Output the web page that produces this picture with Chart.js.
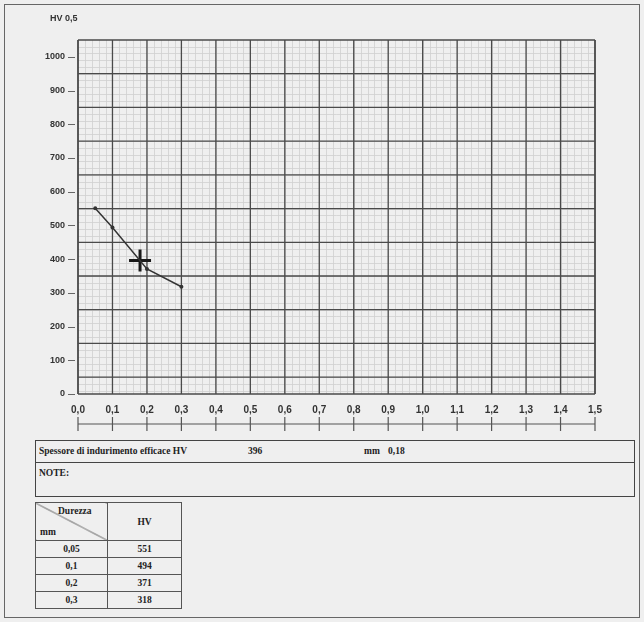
<!DOCTYPE html>
<html>
<head>
<meta charset="utf-8">
<script src="https://cdn.jsdelivr.net/npm/chart.js@4.4.1/dist/chart.umd.min.js"></script>
<style>
  html, body { margin: 0; padding: 0; background: #efefef; }
  body { width: 644px; height: 622px; position: relative; overflow: hidden; }
  #frame { position: absolute; left: 4px; top: 4px; width: 636px; height: 614px; border: 1px solid #666; box-sizing: border-box; }
  #chart { position: absolute; left: 0; top: 0; }
  #ytitle { position: absolute; left: 50px; top: 13px; font: bold 9px "Liberation Sans", Arial, sans-serif; color: #333; }
  .serif { font-family: "Liberation Serif", "Times New Roman", serif; font-weight: bold; font-size: 9.5px; color: #222; }
  #info { position: absolute; left: 35px; top: 440px; width: 600px; height: 57px; border: 1.5px solid #444; box-sizing: border-box; }
  #info .row1 { position: absolute; left: 0; top: 0; right: 0; height: 21px; border-bottom: 1.5px solid #444; }
  #info span { position: absolute; top: 5px; white-space: nowrap; }
  #note { position: absolute; left: 3px; top: 27px; }
  #tbl { position: absolute; left: 35px; top: 502px; border-collapse: collapse; }
  #tbl td { border: 1.5px solid #555; text-align: center; padding: 0; height: 16px; }
  #tbl td.c1 { width: 71px; }
  #tbl td.c2 { width: 73px; }
  #tbl td.head { height: 37px; position: relative;
    background: linear-gradient(to top right, transparent calc(50% - 0.7px), #444 50%, transparent calc(50% + 0.7px)); }
  #tbl .durezza { position: absolute; left: 22px; top: 3px; }
  #tbl .mm { position: absolute; left: 4px; bottom: 3px; }
</style>
</head>
<body>
<div id="frame"></div>
<canvas id="chart" width="644" height="440"></canvas>
<div id="ytitle">HV 0,5</div>
<div id="info" class="serif">
  <div class="row1">
    <span id="lblEff" style="left:3px">Spessore di indurimento efficace HV</span>
    <span id="valHV" style="left:212px"></span>
    <span style="left:328px">mm</span>
    <span id="valMm" style="left:352px"></span>
  </div>
  <div id="note">NOTE:</div>
</div>
<table id="tbl" class="serif">
  <tbody id="tbody">
    <tr><td class="c1 head"><span class="durezza">Durezza</span><span class="mm">mm</span></td><td class="c2">HV</td></tr>
  </tbody>
</table>

<script>
// Measured hardness profile: depth (mm) vs hardness HV 0,5
const depthsMm = [0.05, 0.1, 0.2, 0.3];
const hardnessHV = [551, 494, 371, 318];

// Effective case depth result
const effectiveHV = 396;
const effectiveDepthMm = 0.18;

// Axis tick labels
const xTickLabels = ['0,0','0,1','0,2','0,3','0,4','0,5','0,6','0,7','0,8','0,9','1,0','1,1','1,2','1,3','1,4','1,5'];
const yTickLabels = ['0','100','200','300','400','500','600','700','800','900','1000'];

const fmt = (v, d) => v.toFixed(d).replace('.', ',');
const fmtDepth = v => (Math.round(v * 100) % 10 === 0 ? fmt(v, 1) : fmt(v, 2));

// Text fields below the chart
document.getElementById('valHV').textContent = String(effectiveHV);
document.getElementById('valMm').textContent = fmt(effectiveDepthMm, 2);
const tbody = document.getElementById('tbody');
depthsMm.forEach((d, i) => {
  const tr = document.createElement('tr');
  tr.innerHTML = '<td class="c1">' + fmtDepth(d) + '</td><td class="c2">' + hardnessHV[i] + '</td>';
  tbody.appendChild(tr);
});

// Graph paper: fine grid, heavy grid, frame, y tick dashes and ruler under the x labels
const paperGrid = {
  id: 'paperGrid',
  beforeDatasetsDraw(chart) {
    const { ctx, chartArea: a, scales: { x, y } } = chart;
    const line = (x1, y1, x2, y2) => { ctx.beginPath(); ctx.moveTo(x1, y1); ctx.lineTo(x2, y2); ctx.stroke(); };
    ctx.save();
    // fine grid
    ctx.strokeStyle = '#cfcfcf';
    ctx.lineWidth = 0.8;
    for (let v = 0.02; v < 1.5; v += 0.02) {
      const px = Math.round(x.getPixelForValue(v)) + 0.5;
      line(px, a.top, px, a.bottom);
    }
    for (let v = 10; v < 1050; v += 20) {
      const py = Math.round(y.getPixelForValue(v)) + 0.5;
      line(a.left, py, a.right, py);
    }
    // heavy grid
    ctx.strokeStyle = '#4a4a4a';
    ctx.lineWidth = 1.3;
    for (let i = 0; i <= 15; i++) {
      const px = x.getPixelForValue(i / 10);
      line(px, a.top, px, a.bottom);
    }
    for (let v = 50; v <= 1050; v += 100) {
      const py = y.getPixelForValue(v);
      line(a.left, py, a.right, py);
    }
    ctx.lineWidth = 1.5;
    line(a.left, a.bottom, a.right, a.bottom);
    line(a.left, a.top, a.left, a.bottom);
    line(a.right, a.top, a.right, a.bottom);
    // y tick dashes
    ctx.strokeStyle = '#666';
    ctx.lineWidth = 1;
    for (let v = 0; v <= 1000; v += 100) {
      const py = Math.round(y.getPixelForValue(v)) + 0.5;
      line(a.left - 10, py, a.left - 3, py);
    }
    // ruler
    const ry = a.bottom + 30;
    ctx.strokeStyle = '#555';
    ctx.lineWidth = 1.2;
    line(x.getPixelForValue(0), ry, x.getPixelForValue(1.5), ry);
    for (let i = 0; i <= 15; i++) {
      const px = x.getPixelForValue(i / 10);
      line(px, ry - 7, px, ry + 7);
    }
    ctx.restore();
  }
};

new Chart(document.getElementById('chart'), {
  type: 'scatter',
  data: {
    datasets: [
      {
        data: depthsMm.map((d, i) => ({ x: d, y: hardnessHV[i] })),
        showLine: true,
        borderColor: '#333',
        borderWidth: 1.5,
        backgroundColor: '#333',
        pointRadius: 2,
        pointBorderWidth: 0
      },
      {
        data: [{ x: effectiveDepthMm, y: effectiveHV }],
        pointStyle: 'cross',
        pointRadius: 11,
        borderColor: '#1a1a1a',
        borderWidth: 3,
        showLine: false
      }
    ]
  },
  options: {
    responsive: false,
    animation: false,
    layout: { padding: { top: 40, right: 49, left: 0, bottom: 0 } },
    plugins: { legend: { display: false }, tooltip: { enabled: false } },
    scales: {
      x: {
        type: 'linear',
        min: 0,
        max: 1.5,
        grid: { display: false, drawTicks: false },
        border: { display: false },
        afterBuildTicks: s => { s.ticks = xTickLabels.map((_, i) => ({ value: i / 10 })); },
        afterFit: s => { s.height = 46; },
        ticks: {
          padding: 10,
          maxRotation: 0,
          autoSkip: false,
          color: '#333',
          font: { family: 'Liberation Sans', size: 10, weight: 'bold' },
          callback: (v, i) => xTickLabels[i]
        }
      },
      y: {
        min: 0,
        max: 1050,
        grid: { display: false, drawTicks: false },
        border: { display: false },
        afterBuildTicks: s => { s.ticks = yTickLabels.map((_, i) => ({ value: i * 100 })); },
        afterFit: s => { s.width = 78; },
        ticks: {
          padding: 13,
          autoSkip: false,
          color: '#333',
          font: { family: 'Liberation Sans', size: 9, weight: 'bold' },
          callback: (v, i) => yTickLabels[i]
        }
      }
    }
  },
  plugins: [paperGrid]
});
</script>
</body>
</html>
